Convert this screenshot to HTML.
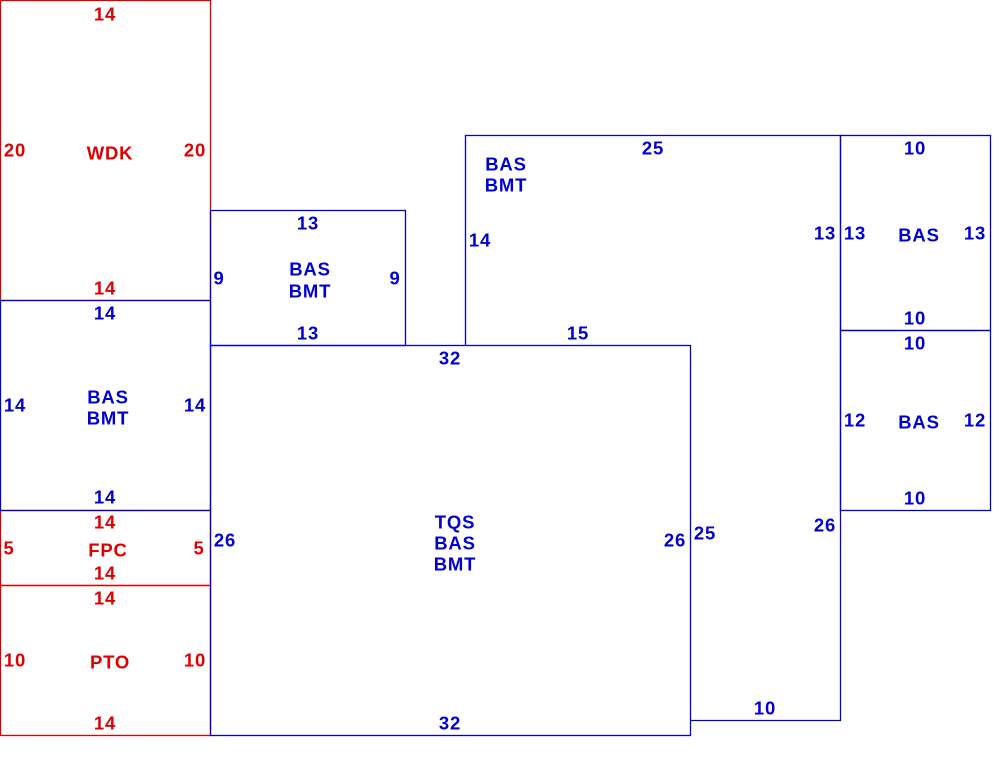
<!DOCTYPE html>
<html><head><style>body{margin:0;background:#fff}svg{display:block}text{font-family:"Liberation Sans",sans-serif;font-weight:bold;font-size:18.5px;letter-spacing:0.8px;text-anchor:middle;dominant-baseline:central}</style></head>
<body>
<svg width="1000" height="765" xmlns="http://www.w3.org/2000/svg">
<g fill="none" stroke="#e00000" stroke-width="1.3">
<rect x="0.5" y="0.5" width="210" height="300"/>
<rect x="0.5" y="510.5" width="210" height="75"/>
<rect x="0.5" y="585.5" width="210" height="150"/>
</g>
<g fill="none" stroke="#0000d0" stroke-width="1.3">
<rect x="0.5" y="300.5" width="210" height="210"/>
<rect x="210.5" y="210.5" width="195" height="135"/>
<rect x="210.5" y="345.5" width="480" height="390"/>
<polyline points="465.5,345.5 465.5,135.5 840.5,135.5 840.5,720.5 690.5,720.5"/>
<rect x="840.5" y="135.5" width="150" height="195"/>
<rect x="840.5" y="330.5" width="150" height="180"/>
</g>
<g fill="#e00000">
<text x="105" y="14">14</text><text x="15" y="150">20</text><text x="110" y="153">WDK</text><text x="195" y="150">20</text><text x="105" y="288">14</text>
<text x="105" y="522">14</text><text x="9" y="548">5</text><text x="108" y="550">FPC</text><text x="199" y="548">5</text><text x="105" y="573">14</text>
<text x="105" y="598">14</text><text x="15" y="660">10</text><text x="110" y="662">PTO</text><text x="195" y="660">10</text><text x="105" y="723">14</text>
</g>
<g fill="#0000d0">
<text x="105" y="313">14</text><text x="15" y="405">14</text><text x="108" y="397">BAS</text><text x="108" y="418">BMT</text><text x="195" y="405">14</text><text x="105" y="497">14</text>
<text x="308" y="223">13</text><text x="219" y="278">9</text><text x="310" y="269">BAS</text><text x="310" y="291">BMT</text><text x="395" y="278">9</text><text x="308" y="333">13</text>
<text x="450" y="358">32</text><text x="225" y="540">26</text><text x="455" y="522">TQS</text><text x="455" y="543">BAS</text><text x="455" y="564">BMT</text><text x="675" y="540">26</text><text x="450" y="723">32</text>
<text x="653" y="148">25</text><text x="506" y="164">BAS</text><text x="506" y="185">BMT</text><text x="480" y="240">14</text><text x="825" y="233">13</text><text x="578" y="333">15</text><text x="705" y="533">25</text><text x="825" y="525">26</text><text x="765" y="708">10</text>
<text x="915" y="148">10</text><text x="855" y="233">13</text><text x="919" y="235">BAS</text><text x="975" y="233">13</text><text x="915" y="318">10</text>
<text x="915" y="343">10</text><text x="855" y="420">12</text><text x="919" y="422">BAS</text><text x="975" y="420">12</text><text x="915" y="498">10</text>
</g>
</svg>
</body></html>
